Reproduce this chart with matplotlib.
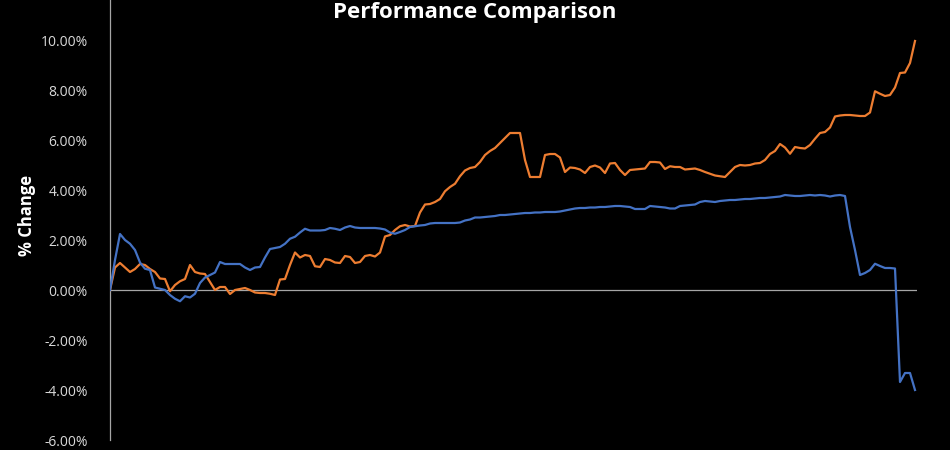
"""
Performance Comparison chart
Two cumulative % change series over time, Excel-style dark theme
"""

import numpy as np
import matplotlib.pyplot as plt
from matplotlib.ticker import FuncFormatter

plt.rcParams['font.family'] = ['Open Sans', 'DejaVu Sans']

# blue series (% change), one sample per step
blue_values = [
    0.0, 1.2, 2.24, 2.0, 1.85, 1.6, 1.1, 0.85, 0.8, 0.1,
    0.05, 0.0, -0.2, -0.35, -0.45, -0.25, -0.3, -0.15, 0.28, 0.5,
    0.6, 0.7, 1.12, 1.04, 1.04, 1.04, 1.04, 0.9, 0.8, 0.9,
    0.92, 1.3, 1.64, 1.68, 1.72, 1.85, 2.05, 2.13, 2.3, 2.45,
    2.38, 2.38, 2.38, 2.4, 2.48, 2.45, 2.4, 2.5, 2.56, 2.5,
    2.48, 2.48, 2.48, 2.48, 2.46, 2.42, 2.3, 2.25, 2.32, 2.4,
    2.52, 2.55, 2.58, 2.6, 2.66, 2.68, 2.68, 2.68, 2.68, 2.68,
    2.7, 2.78, 2.82, 2.9, 2.9, 2.92, 2.94, 2.96, 3.0, 3.0,
    3.02, 3.04, 3.06, 3.08, 3.08, 3.1, 3.1, 3.12, 3.12, 3.12,
    3.14, 3.18, 3.22, 3.26, 3.28, 3.28, 3.3, 3.3, 3.32, 3.32,
    3.34, 3.36, 3.36, 3.34, 3.32, 3.24, 3.24, 3.24, 3.36, 3.34,
    3.32, 3.3, 3.26, 3.26, 3.36, 3.38, 3.4, 3.42, 3.52, 3.56,
    3.54, 3.52, 3.56, 3.58, 3.6, 3.6, 3.62, 3.64, 3.64, 3.66,
    3.68, 3.68, 3.7, 3.72, 3.74, 3.8, 3.78, 3.76, 3.76, 3.78,
    3.8, 3.78, 3.8, 3.78, 3.74, 3.78, 3.8, 3.76, 2.52, 1.6,
    0.6, 0.68, 0.8, 1.05, 0.96, 0.88, 0.88, 0.86, -3.68, -3.32,
    -3.32, -4.0,
]

# orange series (% change)
orange_values = [
    0.0, 0.9, 1.08, 0.9, 0.72, 0.84, 1.04, 1.0, 0.84, 0.72,
    0.46, 0.44, -0.05, 0.2, 0.35, 0.44, 1.0, 0.72, 0.66, 0.64,
    0.32, 0.0, 0.12, 0.12, -0.16, 0.0, 0.04, 0.08, 0.0, -0.1,
    -0.12, -0.12, -0.15, -0.2, 0.42, 0.44, 1.0, 1.5, 1.3, 1.4,
    1.36, 0.95, 0.92, 1.24, 1.2, 1.1, 1.08, 1.36, 1.32, 1.08,
    1.12, 1.36, 1.4, 1.34, 1.5, 2.14, 2.2, 2.4, 2.55, 2.6,
    2.54, 2.56, 3.1, 3.42, 3.44, 3.52, 3.64, 3.95, 4.12, 4.25,
    4.55, 4.78, 4.88, 4.92, 5.12, 5.4, 5.56, 5.68, 5.88, 6.08,
    6.28, 6.28, 6.28, 5.2, 4.52, 4.52, 4.52, 5.4, 5.44, 5.44,
    5.3, 4.72, 4.9, 4.88, 4.82, 4.68, 4.92, 4.98, 4.9, 4.68,
    5.06, 5.08, 4.8, 4.6, 4.8, 4.82, 4.84, 4.86, 5.12, 5.12,
    5.1, 4.84, 4.95, 4.92, 4.92, 4.82, 4.84, 4.86, 4.8, 4.72,
    4.65, 4.58, 4.55, 4.52, 4.72, 4.92, 5.0, 4.98, 5.0, 5.06,
    5.08, 5.2, 5.44, 5.56, 5.84, 5.7, 5.45, 5.72, 5.68, 5.66,
    5.8, 6.05, 6.28, 6.32, 6.5, 6.94, 6.98, 7.0, 7.0, 6.98,
    6.96, 6.96, 7.1, 7.95, 7.85, 7.76, 7.8, 8.1, 8.68, 8.7,
    9.08, 9.96,
]

y_ticks = [-6, -4, -2, 0, 2, 4, 6, 8, 10]

title_text = 'Performance Comparison'
y_label = '% Change'

BLUE = '#4472C4'
ORANGE = '#ED7D31'
GRID_GRAY = '#a6a6a6'
TEXT_COLOR = '#d9d9d9'


def plot_chart():
    fig = plt.figure(figsize=(9.5, 4.5), dpi=100, facecolor='black')
    ax = fig.add_axes([110 / 950, 10 / 450, 807 / 950, 440 / 450])
    ax.set_facecolor('black')

    x = np.arange(len(blue_values))

    # 零线
    ax.axhline(0, color=GRID_GRAY, linewidth=0.9, zorder=1)

    ax.plot(x, orange_values, color=ORANGE, linewidth=1.6, zorder=3)
    ax.plot(x, blue_values, color=BLUE, linewidth=1.6, zorder=3)

    ax.set_xlim(0, len(blue_values) - 1 + 0.4)
    ax.set_ylim(-6, 11.6)
    ax.set_yticks(y_ticks)
    ax.yaxis.set_major_formatter(FuncFormatter(lambda v, p: f'{v:.2f}%'))
    ax.tick_params(axis='y', length=0, pad=16, labelsize=10, labelcolor=TEXT_COLOR)
    ax.set_xticks([])

    for side in ['top', 'right', 'bottom']:
        ax.spines[side].set_visible(False)
    ax.spines['left'].set_color(GRID_GRAY)
    ax.spines['left'].set_linewidth(0.9)

    # 标题（原图顶部被裁切，这里略下移以保持完整）
    fig.text(0.5, 1 - 18 / 450, title_text, ha='center', va='baseline',
             fontsize=16, fontweight='bold', color='white')
    fig.text(27 / 950, 1 - 215 / 450, y_label, ha='center', va='center',
             rotation=90, fontsize=12, fontweight='bold', color='white')

    fig.savefig('out.png', dpi=100, facecolor='black')


if __name__ == "__main__":
    plot_chart()
